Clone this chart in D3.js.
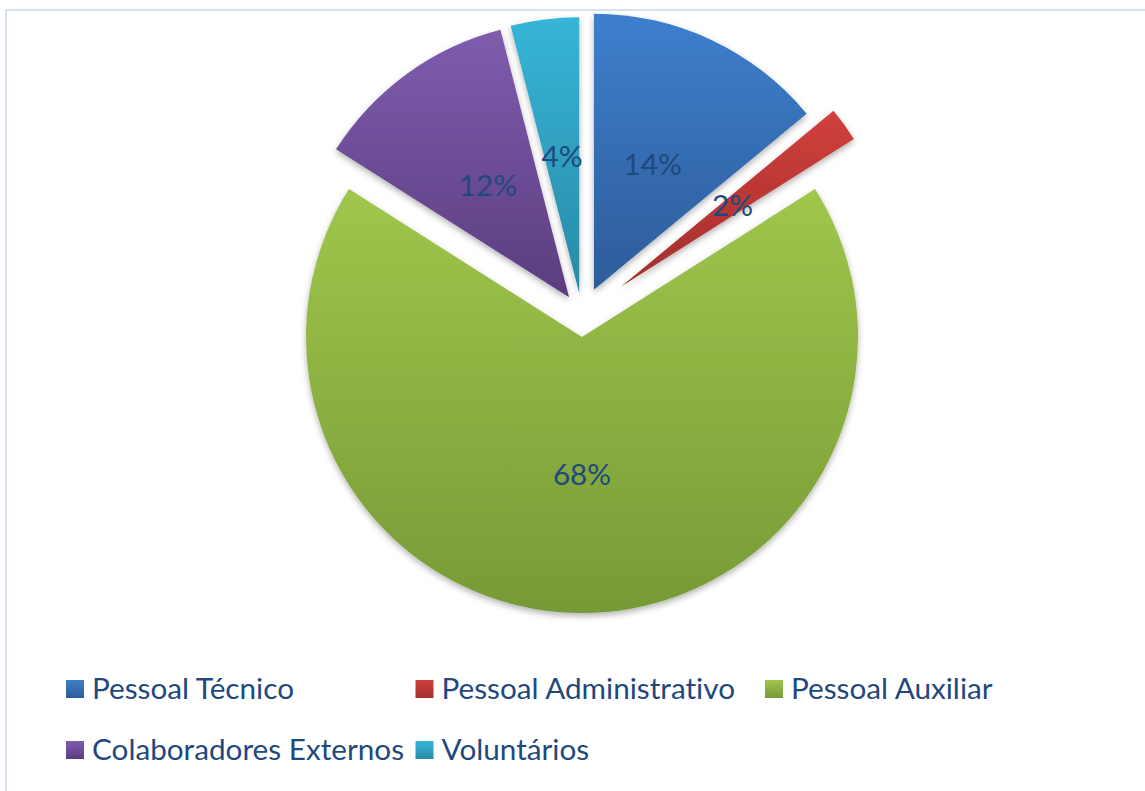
<!DOCTYPE html>
<html>
<head>
<meta charset="utf-8">
<script src="https://cdn.jsdelivr.net/npm/d3@7"></script>
<style>
  html, body { margin: 0; padding: 0; background: #fff; }
  svg { display: block; }
  text { font-variant-ligatures: none; font-feature-settings: "liga" 0, "clig" 0; }
</style>
</head>
<body>
<div id="chart"></div>
<script>
const categories = ['Pessoal Técnico', 'Pessoal Administrativo', 'Pessoal Auxiliar', 'Colaboradores Externos', 'Voluntários'];
const values = [14, 2, 68, 12, 4];
const labels = ['14%', '2%', '68%', '12%', '4%'];

// gradient top / bottom per slice
const colorsTop = ['#3e7fcd', '#d0403c', '#a0c64b', '#7f5cae', '#36b5d8'];
const colorsBottom = ['#2d5c99', '#a32f2c', '#779a37', '#5b3d7f', '#288aa5'];
const explode = [28, 48, 22, 22, 22];

const width = 1145;
const height = 791;
const cx = 582, cy = 315, radius = 276;
const textColor = '#1f497d';
const fontFamily = 'Lato, "Open Sans", sans-serif';
const fontSize = 29;

const svg = d3.select('#chart').append('svg')
  .attr('width', width)
  .attr('height', height);

const defs = svg.append('defs');

const shadow = defs.append('filter')
  .attr('id', 'shadow')
  .attr('x', '-20%').attr('y', '-20%')
  .attr('width', '140%').attr('height', '140%');
shadow.append('feDropShadow')
  .attr('dx', 0).attr('dy', 3)
  .attr('stdDeviation', 3)
  .attr('flood-color', '#000')
  .attr('flood-opacity', 0.3);

categories.forEach((c, i) => {
  const g = defs.append('linearGradient')
    .attr('id', 'grad' + i)
    .attr('x1', 0).attr('y1', 0)
    .attr('x2', 0).attr('y2', 1);
  g.append('stop').attr('offset', '0%').attr('stop-color', colorsTop[i]);
  g.append('stop').attr('offset', '100%').attr('stop-color', colorsBottom[i]);
});

// chart area border
svg.append('rect')
  .attr('x', 6).attr('y', 10)
  .attr('width', width + 20).attr('height', height + 20)
  .attr('fill', 'none')
  .attr('stroke', '#d6e4f2')
  .attr('stroke-width', 2);

const pie = d3.pie().sort(null).value(d => d)(values);
const arc = d3.arc().innerRadius(0).outerRadius(radius);

const offset = (d, dist) => {
  const a = (d.startAngle + d.endAngle) / 2;
  return [Math.sin(a) * dist, -Math.cos(a) * dist];
};

const pieG = svg.append('g')
  .attr('transform', `translate(${cx},${cy})`);

const slices = pieG.selectAll('g.slice')
  .data(pie)
  .enter().append('g')
  .attr('class', 'slice')
  .attr('transform', (d, i) => {
    const [ox, oy] = offset(d, explode[i]);
    return `translate(${ox},${oy})`;
  });

slices.append('path')
  .attr('d', arc)
  .attr('fill', (d, i) => `url(#grad${i})`)
  .attr('filter', 'url(#shadow)');

// measure to squeeze the font a little toward Calibri proportions
const probe = svg.append('text')
  .style('font-family', fontFamily)
  .style('font-size', fontSize + 'px')
  .text('Pessoal Técnico');
const squeeze = 202 / probe.node().getComputedTextLength();
probe.remove();

const fitText = sel => sel.each(function () {
  const w = this.getComputedTextLength();
  d3.select(this)
    .attr('textLength', w * squeeze)
    .attr('lengthAdjust', 'spacingAndGlyphs');
});

slices.append('text')
  .attr('x', d => offset(d, radius * 0.5)[0])
  .attr('y', d => offset(d, radius * 0.5)[1])
  .attr('dy', '0.36em')
  .attr('text-anchor', 'middle')
  .style('font-family', fontFamily)
  .style('font-size', fontSize + 'px')
  .style('fill', textColor)
  .text((d, i) => labels[i])
  .call(fitText);

// legend
const legendX = 66, legendY = 699, colW = 349.5, rowH = 61, perRow = 3, box = 18;

const legend = svg.append('g');
const items = legend.selectAll('g')
  .data(categories)
  .enter().append('g')
  .attr('transform', (d, i) => `translate(${legendX + (i % perRow) * colW},${legendY + Math.floor(i / perRow) * rowH})`);

items.append('rect')
  .attr('x', 0)
  .attr('y', -box - 1)
  .attr('width', box)
  .attr('height', box)
  .attr('fill', (d, i) => `url(#grad${i})`);

items.append('text')
  .attr('x', 26)
  .attr('y', 0)
  .style('font-family', fontFamily)
  .style('font-size', fontSize + 'px')
  .style('fill', textColor)
  .text(d => d)
  .call(fitText);
</script>
</body>
</html>
